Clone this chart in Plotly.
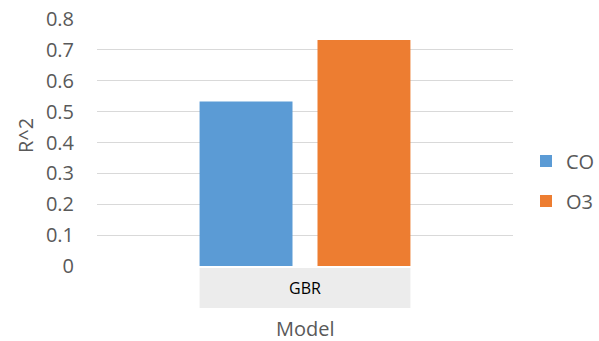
import plotly.graph_objects as go

categories = ["GBR"]
series_names = ["CO", "O3"]
co_values = [0.533]
o3_values = [0.732]
colors = ["#5B9BD5", "#ED7D31"]
y_ticks = [0, 0.1, 0.2, 0.3, 0.4, 0.5, 0.6, 0.7, 0.8]

FONT = "Open Sans"
GRAY = "#595959"

bargap = 0.433
bargroupgap = 0.212

fig = go.Figure()
for name, vals, col in zip(series_names, [co_values, o3_values], colors):
    fig.add_trace(go.Bar(
        x=categories, y=vals, name=name, legendgroup=name,
        marker=dict(color=col, line=dict(width=0)),
    ))

half = (1 - bargap) / 2 * (1 - bargroupgap / 2)
fig.add_shape(type="rect", xref="x", yref="paper",
              x0=-half, x1=half, y0=-0.008, y1=-0.17,
              fillcolor="#ECECEC", line=dict(width=0), layer="below")
fig.add_annotation(x=0, xref="x", y=-0.089, yref="paper", text=categories[0],
                   showarrow=False, font=dict(family=FONT, size=16, color="#000000"),
                   yanchor="middle")
fig.add_annotation(x=0.5, xref="paper", y=(266 - 328) / 247, yref="paper", text="Model",
                   showarrow=False, yanchor="middle",
                   font=dict(family=FONT, size=20, color=GRAY))
fig.add_annotation(x=(25 - 97) / 416, xref="paper", y=(266 - 136) / 247, yref="paper", text="R^2",
                   showarrow=False, textangle=-90, xanchor="center", yanchor="middle",
                   font=dict(family=FONT, size=20, color=GRAY))

fig.update_layout(
    width=599, height=341,
    margin=dict(l=97, r=599 - 513, t=19, b=341 - 266, pad=0, autoexpand=False),
    paper_bgcolor="white", plot_bgcolor="white",
    barmode="group", bargap=bargap, bargroupgap=bargroupgap,
    font=dict(family=FONT, size=20, color=GRAY),
    xaxis=dict(showticklabels=False, showgrid=False, zeroline=False,
               showline=False, ticks=""),
    yaxis=dict(range=[0, 0.8], tickvals=y_ticks, showgrid=True,
               gridcolor="#D9D9D9", gridwidth=1, zeroline=False,
               showline=False, ticks="", ticklabelstandoff=22,
               tickfont=dict(family=FONT, size=20, color=GRAY)),
    legend=dict(x=(526 - 97) / 416, xanchor="left", y=(266 - 181) / 247, yanchor="middle",
                font=dict(family=FONT, size=20, color=GRAY),
                tracegroupgap=11, itemwidth=30),
    showlegend=True,
)

fig.write_html("out.html")
